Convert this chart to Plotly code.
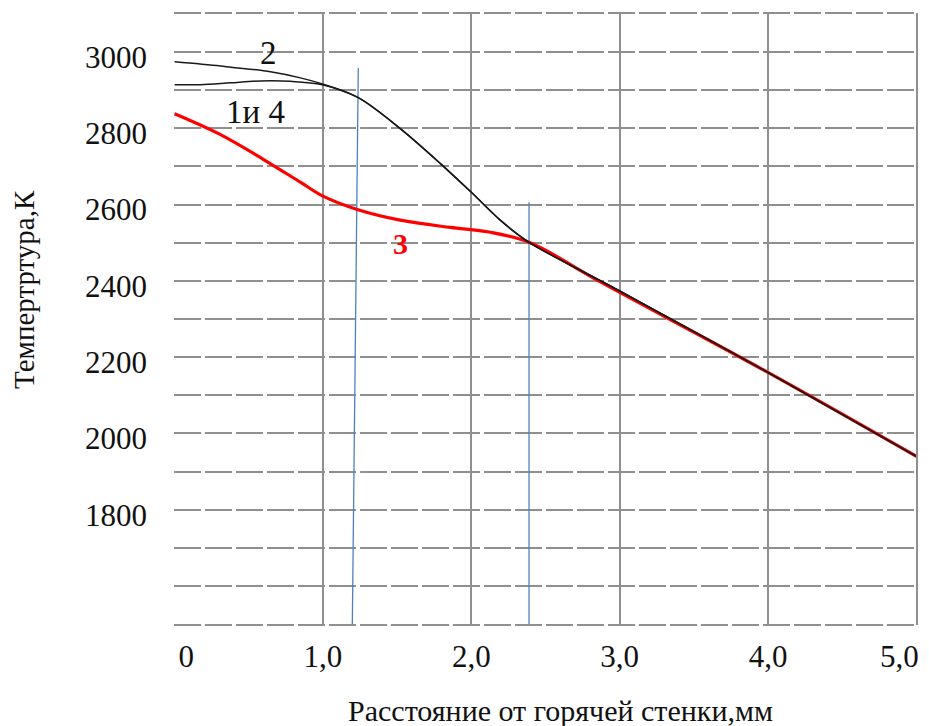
import plotly.graph_objects as go

# Distance from hot wall, mm and temperature, K
x_curve2 = [0.0, 0.31, 0.646, 0.848, 0.996, 1.238, 1.521, 1.79, 2.0, 2.195, 2.389, 2.988, 3.99, 5.0]
t_curve2 = [2974, 2963, 2948, 2932, 2916, 2880, 2799, 2708, 2632, 2559, 2501, 2376, 2162, 1940]

x_curve14 = [0.0, 0.175, 0.377, 0.579, 0.78, 0.996, 1.238, 1.521, 1.79, 2.0, 2.195, 2.389, 2.988, 3.99, 5.0]
t_curve14 = [2914, 2914, 2919, 2924, 2923, 2914, 2880, 2799, 2708, 2632, 2559, 2501, 2376, 2162, 1940]

x_curve3 = [0.0, 0.3, 0.6, 0.85, 1.0, 1.231, 1.521, 1.857, 2.12, 2.389, 2.867, 3.99, 5.0]
t_curve3 = [2838, 2785, 2718, 2658, 2622, 2587, 2559, 2540, 2528, 2501, 2398, 2162, 1940]

# zone boundaries (blue vertical lines)
bound_x_top = [1.238, 2.389]
bound_x_bottom = [1.198, 2.389]
bound_t_top = [2958, 2606]
bound_t_bottom = [1500, 1480]

NB = "\u00a0"
x_ticks = [0, 1, 2, 3, 4, 5]
x_ticktext = [NB * 3 + "0", "1,0", "2,0", "3,0", "4,0", "5,0"]
y_ticks = [1800, 2000, 2200, 2400, 2600, 2800, 3000]
y_ticktext = ["1800", "2000", "2200", "2400", "2600", "2800", "3000"]
y_grid = list(range(1500, 3101, 100))

SERIF = "Liberation Serif, Times New Roman, serif"
GRID = "#8f8f8f"
DASH = "27px,4px"

fig = go.Figure()

for xt, xb, tt, tb in zip(bound_x_top, bound_x_bottom, bound_t_top, bound_t_bottom):
    fig.add_trace(go.Scatter(x=[xt, xb], y=[tt, tb], mode="lines",
                             line=dict(color="#4f81bd", width=1.3), showlegend=False, hoverinfo="skip"))

fig.add_trace(go.Scatter(x=x_curve3, y=t_curve3, mode="lines", line=dict(color="#ff0000", width=3.2, shape="spline", smoothing=1.0),
                         showlegend=False))
fig.add_trace(go.Scatter(x=x_curve14, y=t_curve14, mode="lines", line=dict(color="#1a1a1a", width=1.5, shape="spline", smoothing=0.9),
                         showlegend=False))
fig.add_trace(go.Scatter(x=x_curve2, y=t_curve2, mode="lines", line=dict(color="#1a1a1a", width=1.5, shape="spline", smoothing=0.9),
                         showlegend=False))

fig.add_annotation(x=0.633, y=2997, text="2", showarrow=False, font=dict(family=SERIF, size=33, color="#111"))
fig.add_annotation(x=0.545, y=2843, text="1и 4", showarrow=False, font=dict(family=SERIF, size=33, color="#111"))
fig.add_annotation(x=1.521, y=2499, text="<b>3</b>", showarrow=False, font=dict(family=SERIF, size=30, color="#ff0000"))

# last x tick label, right-aligned at the axis end so it stays inside the page
fig.add_annotation(x=x_ticks[-1], xref="x", y=0, yref="paper", yanchor="top", xanchor="right", xshift=5, yshift=-12,
                   text=x_ticktext[-1], showarrow=False, font=dict(family=SERIF, size=31, color="#111"))

# plot frame edges (right, top, bottom) matching the grid style
fig.add_shape(type="line", xref="paper", yref="paper", x0=1, x1=1, y0=0, y1=1, line=dict(color=GRID, width=2))
fig.add_shape(type="line", xref="paper", yref="paper", x0=0, x1=1, y0=1, y1=1, line=dict(color=GRID, width=2, dash=DASH))
fig.add_shape(type="line", xref="paper", yref="paper", x0=0, x1=1, y0=0, y1=0, line=dict(color=GRID, width=2, dash=DASH))

fig.update_layout(
    width=929, height=726,
    margin=dict(l=174, r=12, t=13, b=101, autoexpand=False),
    plot_bgcolor="white", paper_bgcolor="white",
    font=dict(family=SERIF, size=31, color="#111"),
    annotations=list(fig.layout.annotations) + [
        dict(text="Расстояние от горячей стенки,мм", xref="paper", yref="paper", x=0.52, y=-0.139,
             xanchor="center", yanchor="middle", showarrow=False, font=dict(family=SERIF, size=30, color="#111")),
        dict(text="Темпертртура,К", xref="paper", yref="paper", x=-0.202, y=0.549, textangle=-90,
             xanchor="center", yanchor="middle", showarrow=False, font=dict(family=SERIF, size=29, color="#111")),
    ],
)

fig.update_xaxes(range=[-0.004, 5.004], tickvals=x_ticks[:-1], ticktext=x_ticktext[:-1], showgrid=True, gridcolor=GRID, gridwidth=2,
                 zeroline=False, showline=False, ticks="", ticklabelstandoff=10, ticklabeloverflow="allow",
                 automargin=False)
fig.update_yaxes(range=[1498, 3102], showgrid=True, gridcolor=GRID, gridwidth=2, griddash=DASH,
                 zeroline=False, showline=False, ticks="", tickmode="array", tickvals=y_ticks, ticktext=y_ticktext,
                 ticklabelstandoff=26, ticklabelshift=5, automargin=False,
                 minor=dict(tickvals=y_grid, showgrid=True, gridcolor=GRID, gridwidth=2, griddash=DASH))

fig.write_html("out.html")
